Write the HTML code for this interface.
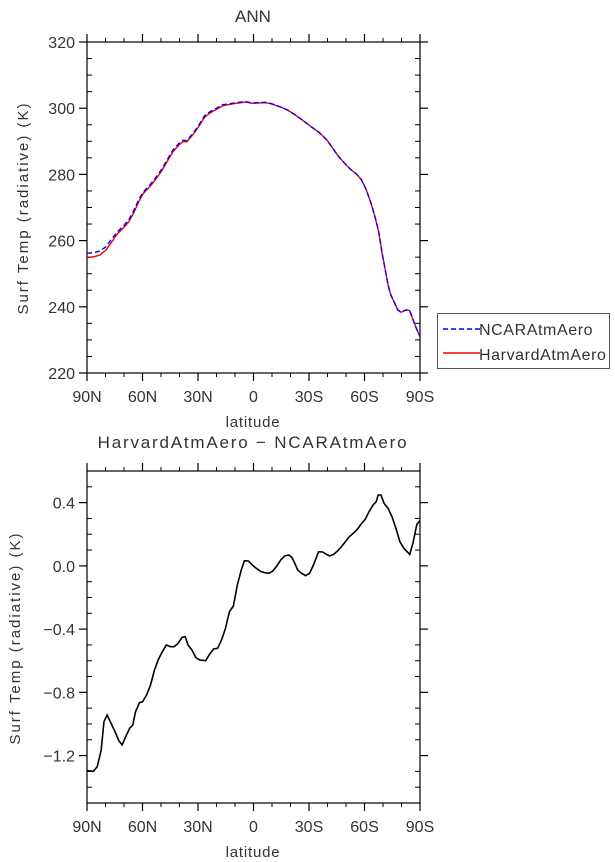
<!DOCTYPE html>
<html><head><meta charset="utf-8"><style>
html,body{margin:0;padding:0;background:#fff;width:615px;height:862px;overflow:hidden}
svg{display:block}
text{font-family:"Liberation Sans",sans-serif;fill:#333}
</style></head><body>
<svg width="615" height="862" viewBox="0 0 615 862">
<g id="axes" stroke="#000" stroke-width="1.2" fill="none"></g>
<text x="253" y="22" font-size="17" text-anchor="middle">ANN</text>
<text x="253" y="448" font-size="17" text-anchor="middle" letter-spacing="1.8">HarvardAtmAero − NCARAtmAero</text>
<text x="253" y="427" font-size="15" text-anchor="middle" letter-spacing="0.8">latitude</text>
<text x="253" y="857" font-size="15" text-anchor="middle" letter-spacing="0.8">latitude</text>
<text transform="translate(28,208) rotate(-90)" font-size="15" text-anchor="middle" letter-spacing="2">Surf Temp (radiative) (K)</text>
<text transform="translate(20,638) rotate(-90)" font-size="15" text-anchor="middle" letter-spacing="2">Surf Temp (radiative) (K)</text>
<g font-size="16" text-anchor="middle" id="xl"></g>
<g font-size="16" text-anchor="end" id="yl"></g>
<g transform="matrix(0.39455 0 0 0.33333 -0.59 0)" fill="none">
<polyline stroke="#e00" stroke-width="1.4" vector-effect="non-scaling-stroke" points="222,773 240,770 255,765 270,750 285,725 300,700 315,683 328,665 340,640 353,605 365,580 380,562 395,540 410,515 425,485 440,455 455,435 465,425 475,425 490,405 505,380 520,352 535,338 550,328 565,318 580,314 600,310 625,306 640,310 655,309 675,308 690,312 710,320 730,330 750,345 770,362 790,380 810,397 830,420 845,445 860,470 875,490 890,508 905,522 918,540 930,570 942,610 953,655 962,700 970,760 978,810 985,855 992,885 1000,905 1010,930 1018,937 1026,932 1033,930 1040,932 1047,955 1055,980 1066,1010"/>
<polyline stroke="#00f" stroke-width="1.4" stroke-dasharray="5,3" vector-effect="non-scaling-stroke" points="222,760 240,758 255,753 270,740 285,716 300,694 315,677 328,659 340,633 353,599 365,575 380,557 395,535 410,510 425,480 440,450 455,430 465,421 475,422 490,401 505,376 520,347 535,334 550,325 565,314 580,312 600,308 625,305 640,309 655,308 675,307 690,311 710,320 730,330 750,345 770,362 790,380 810,397 830,420 845,445 860,470 875,490 890,508 905,522 918,540 930,570 942,610 953,655 962,700 970,760 978,810 985,855 992,885 1000,905 1010,930 1018,937 1026,932 1033,930 1040,932 1047,955 1055,980 1066,1010"/>
</g>
<g transform="matrix(0.39455 0 0 0.33333 -0.59 430)" fill="none">
<polyline stroke="#000" stroke-width="1.6" vector-effect="non-scaling-stroke" points="222,1022 238,1024 248,1010 258,960 265,875 273,855 283,880 293,905 303,933 311,945 320,920 330,895 338,885 345,845 355,818 363,815 373,795 383,765 393,720 403,688 413,665 423,645 433,650 443,650 453,640 463,622 471,620 478,645 488,660 498,683 508,690 523,692 533,672 543,657 553,655 563,630 573,595 583,545 593,528 603,465 613,420 621,392 631,393 641,405 651,415 663,425 673,428 683,430 693,423 703,408 713,390 723,378 733,375 741,382 748,398 756,420 766,430 776,437 786,430 796,405 809,365 819,366 829,373 837,378 847,373 857,363 867,350 877,335 887,320 897,310 907,298 917,282 927,268 937,245 947,225 955,215 960,195 967,195 975,220 985,235 995,260 1005,295 1015,335 1025,355 1040,373 1048,340 1058,283 1066,272"/>
</g>
<rect x="437.5" y="313.5" width="172" height="55" fill="none" stroke="#555" stroke-width="1"/>
<line x1="443" y1="329" x2="480" y2="329" stroke="#00f" stroke-width="1.4" stroke-dasharray="5,3"/>
<line x1="443" y1="353" x2="480" y2="353" stroke="#e00" stroke-width="1.4"/>
<text x="479" y="335" font-size="16" letter-spacing="0.6">NCARAtmAero</text>
<text x="479" y="360" font-size="16" letter-spacing="0.6">HarvardAtmAero</text>
</svg>
<script>
var NS="http://www.w3.org/2000/svg";
var ax=document.getElementById('axes'),xl=document.getElementById('xl'),yl=document.getElementById('yl');
function L(x1,y1,x2,y2,w){var l=document.createElementNS(NS,'line');l.setAttribute('x1',x1);l.setAttribute('y1',y1);l.setAttribute('x2',x2);l.setAttribute('y2',y2);if(w)l.setAttribute('stroke-width',w);ax.appendChild(l);}
function T(g,x,y,s){var t=document.createElementNS(NS,'text');t.setAttribute('x',x);t.setAttribute('y',y);t.textContent=s;g.appendChild(t);}
var X0=87,X1=420;
function frame(top,bot,ymin,ymax,major,minor,labels,fmt){
 var r=ax.appendChild(document.createElementNS(NS,'rect'));r.setAttribute('x',X0);r.setAttribute('y',top);r.setAttribute('width',X1-X0);r.setAttribute('height',bot-top);
 var xs=["90N","60N","30N","0","30S","60S","90S"];
 for(var i=0;i<=18;i++){var x=X0+(X1-X0)*i/18;
  if(i%3==0){L(x,bot,x,bot+8);L(x,top,x,top-8);T(xl,x,bot+29,xs[i/3]);}
  else{L(x,bot,x,bot+4,1);L(x,top,x,top-4,1);}}
 function Y(v){return bot-(v-ymin)/(ymax-ymin)*(bot-top);}
 var n=Math.round((ymax-ymin)/minor);
 for(var k=0;k<=n;k++){var v=ymin+k*minor,y=Y(v);
  var isM=Math.abs(Math.round(v/major)*major-v)<1e-6 && labels.indexOf(Math.round(v/major))>=0;
  if(isM){L(X0,y,X0-8,y);L(X1,y,X1+8,y);T(yl,X0-12,y+6,fmt(v));}
  else{L(X0,y,X0+5,y,1);L(X1,y,X1-5,y,1);}}
}
frame(42,373,220,320,20,5,[11,12,13,14,15,16],function(v){return String(Math.round(v));});
frame(471,803,-1.5,0.6,0.4,0.1,[-3,-2,-1,0,1],function(v){return (v<0?"\u2212":"")+Math.abs(v).toFixed(1);});
</script>
</body></html>
